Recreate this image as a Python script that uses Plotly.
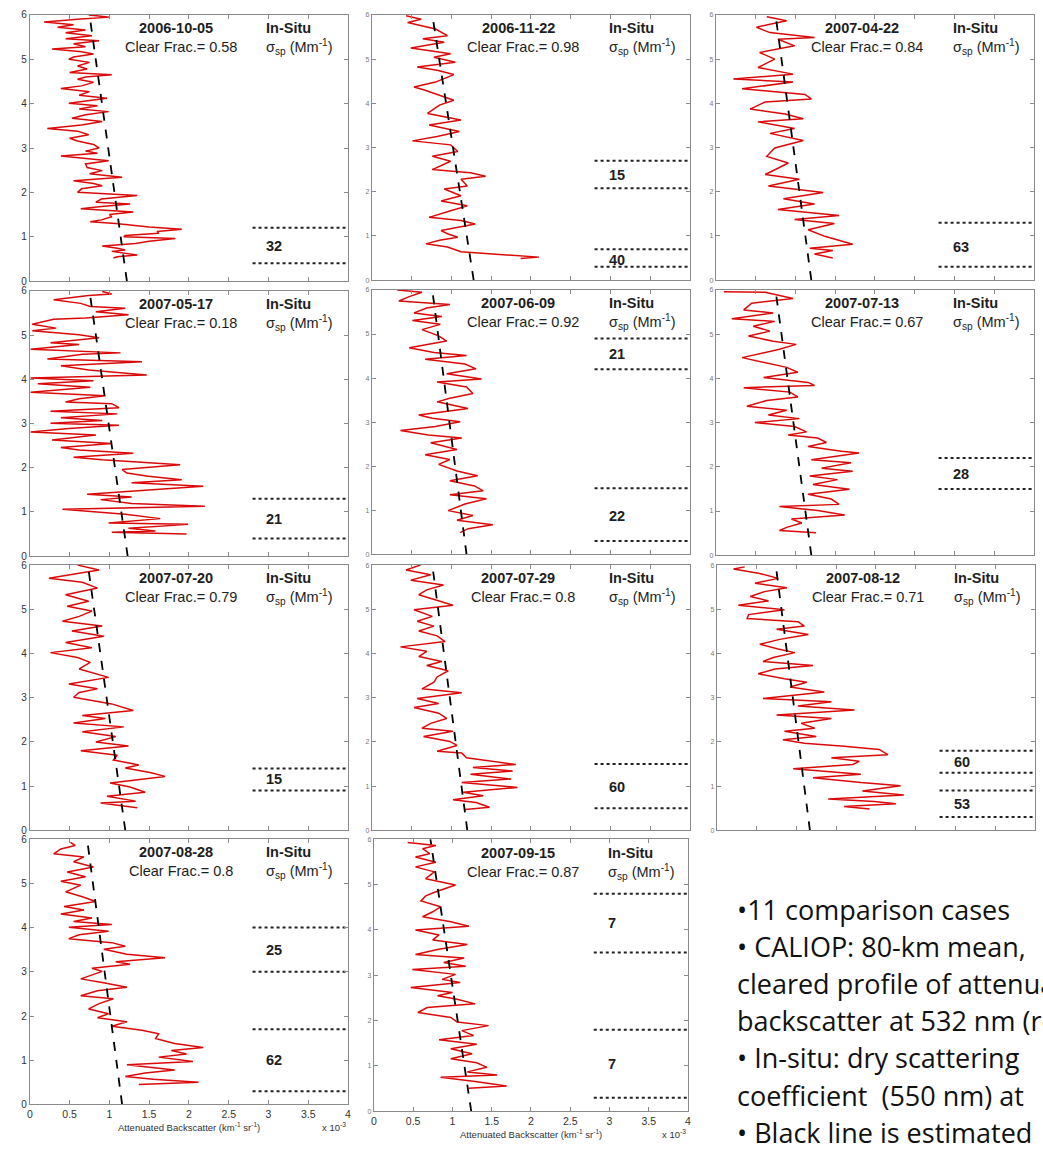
import plotly.graph_objects as go

# ---------------- data ----------------
dates = ["2006-10-05", "2006-11-22", "2007-04-22", "2007-05-17", "2007-06-09", "2007-07-13",
         "2007-07-20", "2007-07-29", "2007-08-12", "2007-08-28", "2007-09-15"]
clear_frac = ["0.58", "0.98", "0.84", "0.18", "0.92", "0.67", "0.79", "0.8", "0.71", "0.8", "0.87"]

# black estimated line: backscatter (x10^-3) at 0 km and at 6 km
fit_at_0km = [1.22, 1.28, 1.20, 1.23, 1.19, 1.20, 1.20, 1.20, 1.17, 1.16, 1.24]
fit_at_6km = [0.75, 0.76, 0.75, 0.75, 0.76, 0.75, 0.73, 0.76, 0.74, 0.72, 0.72]

# in-situ layers: (top km, bottom km, sigma_sp Mm^-1, label altitude)
insitu_20061005 = [(1.2, 0.4, "32", 0.78)]
insitu_20061122 = [(2.7, 2.08, "15", 2.37), (0.7, 0.3, "40", 0.46)]
insitu_20070422 = [(1.3, 0.3, "63", 0.76)]
insitu_20070517 = [(1.3, 0.4, "21", 0.84)]
insitu_20070609 = [(4.9, 4.2, "21", 4.54), (1.5, 0.3, "22", 0.86)]
insitu_20070713 = [(2.2, 1.5, "28", 1.83)]
insitu_20070720 = [(1.4, 0.9, "15", 1.16)]
insitu_20070729 = [(1.5, 0.5, "60", 0.99)]
insitu_20070812 = [(1.8, 1.3, "60", 1.54), (0.9, 0.3, "53", 0.6)]
insitu_20070828 = [(4.0, 3.0, "25", 3.5), (1.7, 0.3, "62", 1.0)]
insitu_20070915 = [(4.8, 3.5, "7", 4.15), (1.8, 0.3, "7", 1.04)]

# CALIOP attenuated backscatter profiles (x10^-3 km^-1 sr^-1) vs altitude (km)
alt_20061005 = [6.0, 5.95, 5.9, 5.84, 5.78, 5.72, 5.66, 5.6, 5.53, 5.46, 5.42, 5.35, 5.28, 5.23, 5.17, 5.12, 5.05, 5.0,
                4.93, 4.85, 4.78, 4.7, 4.65, 4.6, 4.55, 4.48, 4.4, 4.34, 4.27, 4.19, 4.12, 4.05, 4.01, 3.95, 3.88,
                3.82, 3.75, 3.67, 3.6, 3.52, 3.44, 3.38, 3.3, 3.22, 3.16, 3.08, 3.0, 2.93, 2.88, 2.82, 2.76, 2.71,
                2.64, 2.56, 2.49, 2.42, 2.34, 2.26, 2.2, 2.15, 2.08, 2.0, 1.93, 1.85, 1.78, 1.74, 1.68, 1.63, 1.56,
                1.5, 1.45, 1.38, 1.34, 1.3, 1.22, 1.17, 1.12, 1.08, 1.03, 1.0, 0.96, 0.9, 0.85, 0.79, 0.74, 0.7,
                0.67, 0.62, 0.59, 0.55, 0.52]
bsc_20061005 = [0.74, 1.0, 0.6, 0.18, 0.55, 0.35, 0.7, 0.45, 0.78, 0.45, 0.87, 0.55, 0.7, 0.28, 0.65, 0.8, 0.55, 0.49,
                0.75, 0.6, 0.72, 0.5, 1.03, 0.7, 0.6, 0.8, 0.65, 0.39, 0.75, 0.62, 0.97, 0.7, 0.49, 0.85, 0.62,
                0.99, 0.7, 0.53, 0.91, 0.65, 0.22, 0.6, 0.74, 0.5, 0.6, 0.8, 0.87, 0.7, 0.85, 0.39, 0.75, 0.99,
                0.7, 0.72, 0.91, 0.75, 1.16, 0.55, 0.8, 0.91, 0.65, 0.6, 1.35, 0.9, 0.83, 1.26, 0.9, 0.64, 1.3,
                1.0, 1.03, 0.9, 0.76, 1.08, 1.5, 1.91, 1.6, 1.62, 1.2, 1.18, 1.83, 1.5, 1.33, 0.91, 1.1, 1.2,
                1.03, 1.25, 1.35, 1.1, 1.05]

alt_20061122 = [5.98, 5.9, 5.83, 5.68, 5.53, 5.46, 5.38, 5.25, 5.12, 5.04, 4.93, 4.82, 4.75, 4.65, 4.48, 4.37, 4.3,
                4.19, 4.07, 3.96, 3.77, 3.62, 3.51, 3.36, 3.25, 3.15, 3.06, 2.91, 2.8, 2.69, 2.5, 2.43, 2.35, 2.28,
                2.13, 2.06, 1.91, 1.79, 1.68, 1.57, 1.42, 1.35, 1.27, 1.12, 1.05, 0.97, 0.9, 0.82, 0.75, 0.64,
                0.56, 0.52, 0.49]
bsc_20061122 = [0.43, 0.62, 0.45, 0.8, 0.95, 0.64, 0.91, 0.49, 0.99, 0.78, 1.05, 0.57, 0.82, 1.03, 0.8, 0.53, 0.66,
                0.85, 1.03, 0.85, 0.7, 1.12, 0.72, 1.1, 0.82, 0.51, 0.99, 1.08, 0.76, 0.99, 0.76, 1.24, 1.43, 1.12,
                1.2, 0.91, 1.12, 0.87, 1.2, 0.99, 0.72, 1.12, 1.3, 0.87, 0.95, 1.08, 0.85, 0.68, 0.95, 1.12,
                1.87, 2.1, 1.87]

alt_20070422 = [5.96, 5.87, 5.79, 5.72, 5.6, 5.49, 5.45, 5.3, 5.15, 5.0, 4.81, 4.66, 4.55, 4.48, 4.33, 4.2, 4.1,
                4.03, 3.87, 3.76, 3.65, 3.58, 3.43, 3.32, 3.16, 2.99, 2.8, 2.65, 2.53, 2.39, 2.28, 2.13, 1.98,
                1.84, 1.72, 1.6, 1.46, 1.37, 1.28, 1.14, 0.99, 0.81, 0.72, 0.67, 0.59, 0.5]
bsc_20070422 = [0.64, 0.89, 0.68, 0.51, 0.68, 1.24, 0.78, 0.99, 0.55, 0.74, 0.53, 0.97, 0.22, 0.97, 0.33, 1.12, 1.2,
                0.62, 0.43, 0.87, 1.1, 0.53, 0.99, 0.68, 1.1, 0.74, 0.64, 0.91, 0.78, 0.62, 1.05, 0.66, 1.35,
                0.85, 1.24, 0.78, 1.55, 0.99, 1.49, 1.16, 1.37, 1.72, 1.18, 1.47, 1.24, 1.47]

alt_20070517 = [5.99, 5.93, 5.9, 5.8, 5.72, 5.65, 5.61, 5.53, 5.46, 5.39, 5.36, 5.25, 5.16, 5.1, 5.01, 4.94, 4.83,
                4.79, 4.68, 4.6, 4.57, 4.46, 4.4, 4.31, 4.21, 4.1, 4.03, 3.97, 3.9, 3.82, 3.71, 3.63, 3.56, 3.49,
                3.45, 3.36, 3.28, 3.22, 3.13, 3.07, 3.01, 2.96, 2.89, 2.81, 2.74, 2.63, 2.55, 2.46, 2.4, 2.33,
                2.24, 2.18, 2.07, 1.96, 1.88, 1.81, 1.73, 1.66, 1.58, 1.49, 1.4, 1.34, 1.28, 1.19, 1.13, 1.06,
                0.95, 0.85, 0.75, 0.72, 0.63, 0.57, 0.54, 0.5]
bsc_20070517 = [0.91, 1.03, 0.74, 0.3, 0.64, 0.76, 1.2, 0.83, 1.24, 0.7, 0.3, 0.03, 0.33, 0.03, 0.62, 0.87, 0.26,
                0.62, 0.01, 1.14, 0.66, 0.22, 1.41, 0.39, 0.74, 1.47, 0.01, 0.8, 0.1, 0.76, 0.01, 0.95, 0.62, 0.45,
                1.03, 1.12, 0.26, 1.1, 0.39, 0.91, 0.26, 1.12, 0.49, 0.01, 0.83, 0.28, 1.03, 0.39, 0.62, 1.3,
                0.55, 0.91, 1.89, 1.16, 1.22, 1.49, 1.91, 1.28, 2.18, 1.41, 0.72, 1.28, 0.89, 1.28, 2.2, 0.41,
                1.2, 1.64, 0.99, 1.99, 1.24, 1.58, 1.03, 1.97]

alt_20070609 = [6.0, 5.95, 5.85, 5.75, 5.67, 5.59, 5.48, 5.4, 5.31, 5.22, 5.1, 4.96, 4.84, 4.69, 4.58, 4.51, 4.43,
                4.32, 4.21, 4.1, 3.98, 3.91, 3.8, 3.65, 3.54, 3.46, 3.31, 3.16, 3.09, 3.01, 2.9, 2.81, 2.71, 2.64,
                2.53, 2.38, 2.26, 2.15, 2.04, 1.89, 1.78, 1.67, 1.55, 1.44, 1.35, 1.26, 1.14, 0.99, 0.88, 0.77,
                0.67, 0.58, 0.49]
bsc_20070609 = [0.32, 0.63, 0.47, 0.34, 0.98, 0.69, 0.53, 0.88, 0.51, 0.86, 0.63, 0.84, 0.94, 0.47, 0.78, 1.19, 0.67,
                1.17, 1.31, 0.94, 1.38, 0.82, 1.19, 1.27, 0.98, 0.82, 1.21, 0.59, 0.76, 1.11, 0.8, 0.36, 0.71, 1.13,
                0.74, 1.07, 0.67, 0.98, 0.84, 1.07, 1.33, 0.98, 1.29, 1.4, 0.98, 1.44, 1.17, 0.96, 1.27, 1.07,
                1.52, 1.21, 1.11]

alt_20070713 = [5.96, 5.95, 5.81, 5.7, 5.55, 5.48, 5.35, 5.29, 5.18, 5.07, 4.96, 4.84, 4.77, 4.66, 4.47, 4.36, 4.25,
                4.14, 4.02, 3.91, 3.84, 3.79, 3.69, 3.58, 3.5, 3.37, 3.28, 3.17, 3.09, 3.0, 2.91, 2.79, 2.72, 2.65,
                2.55, 2.46, 2.35, 2.31, 2.16, 2.09, 1.97, 1.9, 1.79, 1.71, 1.6, 1.49, 1.38, 1.27, 1.15, 1.1, 1.01,
                0.91, 0.82, 0.73, 0.63, 0.56, 0.51]
bsc_20070713 = [0.1, 0.62, 0.97, 0.45, 0.35, 0.72, 0.2, 0.74, 0.47, 0.68, 0.41, 0.72, 1.01, 0.8, 0.33, 0.62, 0.89,
                1.03, 0.6, 1.16, 1.24, 0.35, 0.93, 1.03, 0.64, 0.39, 0.89, 0.66, 1.05, 0.49, 0.99, 1.14, 0.91, 1.28,
                1.39, 1.16, 1.58, 1.8, 1.2, 1.7, 1.33, 1.72, 1.18, 1.53, 1.22, 1.68, 1.16, 1.45, 1.55, 0.8, 1.28,
                1.62, 0.95, 1.08, 0.89, 0.8, 1.26]

alt_20070720 = [6.0, 5.89, 5.81, 5.7, 5.61, 5.48, 5.33, 5.18, 5.07, 4.96, 4.84, 4.73, 4.62, 4.51, 4.39, 4.25, 4.13,
                4.02, 3.91, 3.8, 3.65, 3.5, 3.46, 3.31, 3.2, 3.12, 3.01, 2.86, 2.71, 2.6, 2.53, 2.43, 2.34, 2.23,
                2.12, 2.0, 1.91, 1.8, 1.7, 1.59, 1.48, 1.41, 1.31, 1.22, 1.14, 1.07, 0.98, 0.86, 0.77, 0.66, 0.62,
                0.51]
bsc_20070720 = [0.6, 0.87, 0.6, 0.24, 0.66, 0.85, 0.45, 0.74, 0.47, 0.78, 0.62, 0.41, 0.91, 0.53, 0.93, 0.45, 0.78,
                0.26, 0.6, 0.76, 0.62, 0.93, 0.99, 0.49, 0.85, 0.62, 0.55, 1.03, 1.3, 0.66, 0.95, 0.55, 1.18, 0.66,
                1.08, 0.83, 1.24, 0.64, 1.1, 1.05, 1.37, 1.2, 1.51, 1.7, 1.33, 1.01, 1.26, 1.45, 0.97, 1.33, 0.89,
                1.35]

alt_20070729 = [6.0, 5.89, 5.78, 5.66, 5.55, 5.44, 5.33, 5.22, 5.09, 4.99, 4.84, 4.73, 4.62, 4.51, 4.4, 4.27, 4.15,
                4.05, 3.93, 3.82, 3.73, 3.61, 3.47, 3.35, 3.2, 3.11, 2.98, 2.87, 2.78, 2.65, 2.53, 2.42, 2.31, 2.24,
                2.12, 2.01, 1.92, 1.79, 1.75, 1.64, 1.56, 1.49, 1.42, 1.34, 1.27, 1.16, 1.08, 0.97, 0.86, 0.78,
                0.69, 0.63, 0.52, 0.47]
bsc_20070729 = [0.61, 0.43, 0.74, 0.49, 0.9, 0.69, 0.59, 0.8, 1.02, 0.53, 0.76, 0.57, 0.78, 0.59, 0.82, 0.92, 0.36,
                0.69, 0.59, 0.88, 0.69, 0.96, 0.82, 0.78, 0.63, 1.13, 0.57, 0.84, 0.53, 0.84, 0.94, 0.74, 0.63, 1.02,
                0.65, 0.98, 1.07, 0.82, 1.13, 1.19, 1.52, 1.81, 1.27, 1.77, 1.24, 1.75, 1.13, 1.83, 1.15, 1.4,
                1.02, 1.31, 1.48, 1.17]

alt_20070812 = [5.96, 5.91, 5.81, 5.7, 5.59, 5.49, 5.4, 5.29, 5.19, 5.09, 4.99, 4.88, 4.79, 4.72, 4.62, 4.55, 4.43,
                4.32, 4.21, 4.1, 4.02, 3.91, 3.82, 3.73, 3.65, 3.54, 3.43, 3.35, 3.24, 3.13, 2.98, 2.91, 2.81, 2.72,
                2.61, 2.53, 2.42, 2.31, 2.24, 2.12, 2.05, 1.97, 1.9, 1.83, 1.71, 1.64, 1.56, 1.49, 1.39, 1.34,
                1.27, 1.19, 1.08, 1.01, 0.89, 0.8, 0.71, 0.65, 0.6, 0.54, 0.48]
bsc_20070812 = [0.35, 0.21, 0.54, 0.77, 0.48, 0.88, 0.6, 0.42, 0.65, 0.27, 0.85, 0.4, 0.38, 1.02, 1.1, 0.75, 1.15,
                0.79, 0.54, 0.77, 0.98, 0.71, 0.58, 1.21, 0.73, 0.52, 0.85, 1.13, 0.92, 1.35, 0.58, 1.44, 1.02, 1.73,
                0.75, 1.44, 1.06, 1.23, 0.85, 1.25, 0.83, 1.1, 1.6, 2.04, 2.15, 1.44, 1.79, 1.71, 0.96, 1.35,
                1.81, 1.21, 1.81, 2.31, 1.83, 2.35, 1.4, 1.98, 2.25, 1.6, 1.92]

alt_20070828 = [5.93, 5.86, 5.78, 5.67, 5.6, 5.49, 5.37, 5.26, 5.15, 5.05, 4.96, 4.81, 4.7, 4.59, 4.48, 4.4, 4.31,
                4.22, 4.14, 4.07, 4.01, 3.92, 3.84, 3.75, 3.66, 3.58, 3.51, 3.4, 3.32, 3.23, 3.17, 3.08, 3.01, 2.91,
                2.84, 2.76, 2.65, 2.57, 2.46, 2.39, 2.28, 2.16, 2.05, 1.96, 1.87, 1.77, 1.68, 1.6, 1.49, 1.38,
                1.29, 1.22, 1.14, 1.07, 0.97, 0.9, 0.78, 0.71, 0.63, 0.57, 0.5, 0.45]
bsc_20070828 = [0.51, 0.57, 0.39, 0.3, 0.68, 0.55, 0.8, 0.47, 0.7, 0.39, 0.64, 0.45, 0.66, 0.83, 0.43, 0.68, 0.39,
                0.78, 0.55, 1.03, 0.49, 0.99, 0.62, 0.49, 1.03, 1.2, 0.93, 1.22, 1.7, 1.08, 1.26, 0.78, 0.91, 0.74,
                0.64, 0.91, 1.22, 0.85, 0.64, 1.05, 0.87, 0.74, 0.99, 0.85, 1.22, 1.03, 1.41, 1.62, 1.58, 1.82,
                2.18, 1.78, 1.97, 1.62, 2.05, 1.22, 1.82, 1.45, 1.2, 1.55, 2.12, 1.37]

alt_20070915 = [5.93, 5.86, 5.79, 5.68, 5.61, 5.49, 5.39, 5.28, 5.13, 4.99, 4.84, 4.75, 4.64, 4.51, 4.4, 4.29, 4.18,
                4.08, 4.0, 3.89, 3.78, 3.68, 3.57, 3.46, 3.38, 3.28, 3.2, 3.13, 3.02, 2.91, 2.84, 2.73, 2.62, 2.55,
                2.47, 2.37, 2.29, 2.18, 2.07, 1.97, 1.89, 1.78, 1.67, 1.58, 1.48, 1.38, 1.27, 1.16, 1.07, 0.97,
                0.87, 0.8, 0.75, 0.66, 0.56, 0.51]
bsc_20070915 = [0.43, 0.79, 0.62, 0.71, 0.53, 0.79, 0.53, 0.77, 0.66, 1.04, 0.79, 0.66, 0.6, 0.85, 0.75, 0.62, 0.98,
                1.21, 0.53, 0.83, 0.75, 1.19, 0.81, 0.53, 1.15, 0.89, 1.17, 0.49, 1.04, 0.87, 1.1, 0.47, 1.0, 0.81,
                1.06, 1.29, 0.68, 0.56, 0.98, 1.06, 1.46, 1.12, 1.27, 0.83, 1.31, 0.98, 1.25, 0.98, 1.31, 1.44,
                1.19, 1.57, 0.85, 1.29, 1.69, 1.21]

altitudes = [alt_20061005, alt_20061122, alt_20070422, alt_20070517, alt_20070609, alt_20070713,
             alt_20070720, alt_20070729, alt_20070812, alt_20070828, alt_20070915]
backscatter = [bsc_20061005, bsc_20061122, bsc_20070422, bsc_20070517, bsc_20070609, bsc_20070713,
               bsc_20070720, bsc_20070729, bsc_20070812, bsc_20070828, bsc_20070915]
insitu = [insitu_20061005, insitu_20061122, insitu_20070422, insitu_20070517, insitu_20070609, insitu_20070713,
          insitu_20070720, insitu_20070729, insitu_20070812, insitu_20070828, insitu_20070915]

x_tick_vals = [0, 0.5, 1, 1.5, 2, 2.5, 3, 3.5, 4]
x_tick_text = ["0", "0.5", "1", "1.5", "2", "2.5", "3", "3.5", "4"]
y_tick_vals = [0, 1, 2, 3, 4, 5, 6]

notes = ["•11 comparison cases",
         "• CALIOP: 80-km mean,",
         "cleared profile of attenuated",
         "backscatter at 532 nm (red)",
         "• In-situ: dry scattering",
         "coefficient  (550 nm) at",
         "• Black line is estimated"]

# ---------------- layout geometry (pixels) ----------------
W, H = 1043, 1150
px_x = [(27, 347), (371, 691), (717, 1037), (27, 347), (371, 691), (717, 1037),
        (27, 347), (371, 691), (718, 1038), (27, 347), (373, 689)]
px_y = [(9, 278), (9, 277), (9, 277), (288, 556), (287, 554), (287, 555),
        (565, 833), (565, 833), (565, 833), (842, 1110), (842, 1117)]

FONT = "Liberation Sans, Arial, sans-serif"
TXT = "#1e1e1e"
AXC = "#8a8a8a"

fig = go.Figure()
layout = dict(width=W, height=H, margin=dict(l=0, r=0, t=0, b=0),
              paper_bgcolor="white", plot_bgcolor="white", showlegend=False,
              font=dict(family=FONT, color=TXT, size=12))
annotations = []

for i in range(11):
    n = i + 1
    xs = "" if n == 1 else str(n)
    xa, ya = "x" + xs, "y" + xs
    col = [0, 1, 2, 0, 1, 2, 0, 1, 2, 0, 1][i]
    bottom_row = i >= 9

    # red profile
    fig.add_trace(go.Scatter(x=backscatter[i], y=altitudes[i], mode="lines",
                             line=dict(color="rgb(218,10,10)", width=1.5),
                             xaxis=xa, yaxis=ya, hoverinfo="skip"))
    # black estimated line
    fig.add_trace(go.Scatter(x=[fit_at_0km[i], fit_at_6km[i]], y=[0, 6], mode="lines",
                             line=dict(color="black", width=1.8, dash="dash"),
                             xaxis=xa, yaxis=ya, hoverinfo="skip"))
    # in-situ layers
    for (top, bot, val, lab_y) in insitu[i]:
        for yy in (top, bot):
            fig.add_trace(go.Scatter(x=[2.8, 4.0], y=[yy, yy], mode="lines",
                                     line=dict(color="#222", width=2, dash="dot"),
                                     xaxis=xa, yaxis=ya, hoverinfo="skip"))
        annotations.append(dict(x=2.95, y=lab_y, xref=xa, yref=ya, text="<b>" + val + "</b>",
                                showarrow=False, xanchor="left", yanchor="middle",
                                font=dict(size=14.5, color=TXT, family=FONT)))

    # panel texts
    annotations += [
        dict(x=1.84, y=5.7, xref=xa, yref=ya, text="<b>" + dates[i] + "</b>", showarrow=False,
             xanchor="center", yanchor="middle", font=dict(size=14.5, color=TXT, family=FONT)),
        dict(x=1.9, y=5.28, xref=xa, yref=ya, text="Clear Frac.= " + clear_frac[i], showarrow=False,
             xanchor="center", yanchor="middle", font=dict(size=14.5, color=TXT, family=FONT)),
        dict(x=2.95, y=5.7, xref=xa, yref=ya, text="<b>In-Situ</b>", showarrow=False,
             xanchor="left", yanchor="middle", font=dict(size=14.5, color=TXT, family=FONT)),
        dict(x=2.95, y=5.27, xref=xa, yref=ya, text="σ<sub>sp</sub> (Mm<sup>-1</sup>)", showarrow=False,
             xanchor="left", yanchor="middle", font=dict(size=14.5, color=TXT, family=FONT)),
    ]

    x0, x1 = px_x[i]
    y0, y1 = px_y[i]
    layout["xaxis" + xs] = dict(
        domain=[x0 / W, x1 / W], range=[0, 4], anchor=ya, tickvals=x_tick_vals, ticktext=x_tick_text,
        ticks="inside", ticklen=4, tickcolor=AXC, showline=True, linecolor=AXC, linewidth=1,
        mirror="ticks", showgrid=False, zeroline=False, showticklabels=bottom_row,
        tickfont=dict(size=10.5, color="#333", family=FONT), fixedrange=True)
    layout["yaxis" + xs] = dict(
        domain=[1 - y1 / H, 1 - y0 / H], range=[0, 6], anchor=xa, tickvals=y_tick_vals,
        ticks="inside", ticklen=4, tickcolor=AXC, showline=True, linecolor=AXC, linewidth=1,
        mirror="ticks", showgrid=False, zeroline=False, showticklabels=True,
        tickfont=dict(size=10 if col == 0 else 7, color="#333" if col == 0 else "#777", family=FONT),
        fixedrange=True)

    if bottom_row:
        title_y = 1133 if col == 0 else 1140
        annotations.append(dict(x=(x0 + x1) / 2 / W, y=1 - title_y / H, xref="paper", yref="paper",
                                text="Attenuated Backscatter (km<sup>-1</sup> sr<sup>-1</sup>)",
                                showarrow=False, xanchor="center", yanchor="middle",
                                font=dict(size=9.5, color="#333", family=FONT)))
        annotations.append(dict(x=(x1 - 14) / W, y=1 - title_y / H, xref="paper", yref="paper",
                                text="x 10<sup>-3</sup>", showarrow=False, xanchor="center", yanchor="middle",
                                font=dict(size=9.5, color="#333", family=FONT)))

# notes text block (clipped by the right page edge, as in the reference)
for k, line in enumerate(notes):
    annotations.append(dict(x=736 / W, y=1 - (913 + 37.5 * k) / H, xref="paper", yref="paper",
                            text=line, showarrow=False, xanchor="left", yanchor="middle",
                            font=dict(size=27, color="#111", family="Open Sans, sans-serif")))

layout["annotations"] = annotations
fig.update_layout(**layout)
fig.write_html("out.html")
